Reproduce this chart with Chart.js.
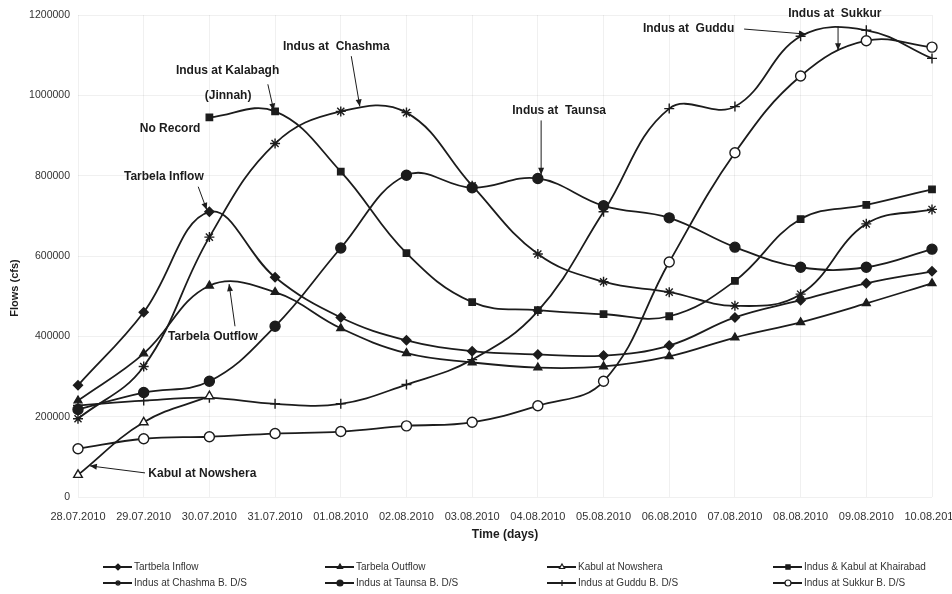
<!DOCTYPE html>
<html>
<head>
<meta charset="utf-8">
<title>Flood flows, Indus river system, July-August 2010</title>
<script src="https://cdn.jsdelivr.net/npm/chart.js@4/dist/chart.umd.min.js"></script>
<style>
  html, body { margin: 0; padding: 0; background: #ffffff; }
  #wrap { width: 952px; height: 594px; }
</style>
</head>
<body>
<div id="wrap"><canvas id="flowChart" width="952" height="594"></canvas></div>
<script>
// Days on the x axis
const days = ["28.07.2010", "29.07.2010", "30.07.2010", "31.07.2010", "01.08.2010", "02.08.2010", "03.08.2010",
    "04.08.2010", "05.08.2010", "06.08.2010", "07.08.2010", "08.08.2010", "09.08.2010", "10.08.2010"];

// Flows (cfs)
const tarbelaInflow = [278000, 460000, 710000, 547000, 447000, 390000, 363000, 355000, 352000, 377000, 447000, 490000, 532000, 562000];
const tarbelaOutflow = [240000, 357000, 526000, 510000, 420000, 358000, 335000, 322000, 325000, 350000, 397000, 435000, 482000, 532000];
const kabulNowshera = [55000, 186000, 251000, null, null, null, null, null, null, null, null, null, null, null];
const khairabad = [null, null, 945000, 960000, 810000, 607000, 485000, 465000, 455000, 450000, 538000, 692000, 727000, 766000];
const chashma = [195000, 325000, 647000, 880000, 960000, 957000, 775000, 605000, 536000, 510000, 476000, 505000, 680000, 716000];
const taunsa = [218000, 260000, 288000, 425000, 620000, 801000, 770000, 793000, 725000, 695000, 622000, 572000, 572000, 617000];
const guddu = [228000, 240000, 247000, 232000, 232000, 280000, 342000, 463000, 710000, 967000, 972000, 1147000, 1162000, 1092000];
const sukkur = [120000, 145000, 150000, 158000, 163000, 177000, 186000, 227000, 288000, 585000, 857000, 1048000, 1136000, 1120000];

// Y axis ticks
const flowTicks = [0, 200000, 400000, 600000, 800000, 1000000, 1200000];

// Callouts: text in data units (day index, flow), arrow from -> to
const callouts = [
    { lines: ["Indus at  Sukkur"], at: [10.81, 1202500], arrow: [[11.57, 1172500], [11.57, 1112500]] },
    { lines: ["Indus at  Guddu"], at: [8.60, 1165000], arrow: [[10.14, 1165000], [11.08, 1152500]] },
    { lines: ["Indus at  Taunsa"], at: [6.61, 962500], arrow: [[7.05, 937500], [7.05, 802500]] },
    { lines: ["Indus at  Chashma"], at: [3.12, 1120000], arrow: [[4.16, 1097500], [4.29, 972500]] },
    { lines: ["Indus at Kalabagh"], at: [1.49, 1062500], arrow: [[2.89, 1027500], [2.98, 962500]] },
    { lines: ["(Jinnah)"], at: [1.93, 1000000] },
    { lines: ["No Record"], at: [0.94, 917500] },
    { lines: ["Tarbela Inflow"], at: [0.70, 797500], arrow: [[1.83, 772500], [1.96, 715000]] },
    { lines: ["Tarbela Outflow"], at: [1.37, 400000], arrow: [[2.39, 425000], [2.30, 530000]] },
    { lines: ["Kabul at Nowshera"], at: [1.07, 57500], arrow: [[1.02, 60000], [0.18, 77500]] }
];

const FONT = "'Liberation Sans', Arial, sans-serif";
const INK = "#1c1c1c";

const makeSeries = (label, data, pointStyle, hollow, radius) => ({
    label: label,
    data: data,
    borderColor: INK,
    borderWidth: 1.8,
    tension: 0.4,
    spanGaps: false,
    pointStyle: pointStyle,
    pointRadius: radius || 4,
    pointBorderWidth: 1.4,
    pointBorderColor: INK,
    pointBackgroundColor: hollow ? "#ffffff" : INK
});

const datasets = [
    makeSeries("Tartbela Inflow", tarbelaInflow, "rectRot", false, 4.5),
    makeSeries("Tarbela Outflow", tarbelaOutflow, "triangle", false, 4.5),
    makeSeries("Kabul at Nowshera", kabulNowshera, "triangle", true, 5),
    makeSeries("Indus & Kabul at Khairabad", khairabad, "rect", false, 4.5),
    makeSeries("Indus at Chashma B. D/S", chashma, "star", false, 5),
    makeSeries("Indus at Taunsa B. D/S", taunsa, "circle", false, 5),
    makeSeries("Indus at Guddu B. D/S", guddu, "cross", false, 5),
    makeSeries("Indus at Sukkur B. D/S", sukkur, "circle", true, 5)
];

// Legend: 4 columns x 2 rows under the chart
const legendCols = [103, 325, 547, 773];
const legendRows = [567, 583];
const legendOrder = [0, 1, 2, 3, 4, 5, 6, 7];

const drawArrow = (ctx, x1, y1, x2, y2) => {
    ctx.beginPath();
    ctx.moveTo(x1, y1);
    ctx.lineTo(x2, y2);
    ctx.stroke();
    const ang = Math.atan2(y2 - y1, x2 - x1);
    const len = 7, w = 3;
    ctx.beginPath();
    ctx.moveTo(x2, y2);
    ctx.lineTo(x2 - len * Math.cos(ang) + w * Math.sin(ang), y2 - len * Math.sin(ang) - w * Math.cos(ang));
    ctx.lineTo(x2 - len * Math.cos(ang) - w * Math.sin(ang), y2 - len * Math.sin(ang) + w * Math.cos(ang));
    ctx.closePath();
    ctx.fill();
};

const extrasPlugin = {
    id: "extras",
    afterDraw(chart) {
        const { ctx, scales: { x, y } } = chart;
        ctx.save();

        // callouts
        ctx.fillStyle = INK;
        ctx.strokeStyle = INK;
        ctx.lineWidth = 1;
        ctx.font = "bold 12px " + FONT;
        ctx.textBaseline = "middle";
        ctx.textAlign = "left";
        callouts.forEach(c => {
            const px = x.getPixelForValue(c.at[0]);
            const py = y.getPixelForValue(c.at[1]);
            c.lines.forEach((t, i) => ctx.fillText(t, px, py + i * 14));
            if (c.arrow) {
                const [a, b] = c.arrow;
                drawArrow(ctx, x.getPixelForValue(a[0]), y.getPixelForValue(a[1]),
                    x.getPixelForValue(b[0]), y.getPixelForValue(b[1]));
            }
        });

        // y axis title
        ctx.save();
        ctx.translate(15, 288);
        ctx.rotate(-Math.PI / 2);
        ctx.textAlign = "center";
        ctx.font = "bold 11px " + FONT;
        ctx.fillText("Flows (cfs)", 0, 0);
        ctx.restore();

        // legend
        ctx.font = "10px " + FONT;
        ctx.textAlign = "left";
        legendOrder.forEach((di, k) => {
            const ds = chart.data.datasets[di];
            const lx = legendCols[k % 4];
            const ly = legendRows[Math.floor(k / 4)];
            ctx.strokeStyle = INK;
            ctx.lineWidth = 2;
            ctx.beginPath();
            ctx.moveTo(lx, ly);
            ctx.lineTo(lx + 29, ly);
            ctx.stroke();
            ctx.fillStyle = ds.pointBackgroundColor;
            ctx.lineWidth = 1.2;
            Chart.helpers.drawPoint(ctx, { pointStyle: ds.pointStyle, radius: 3, rotation: 0, borderWidth: 1.2 }, lx + 15, ly);
            ctx.fillStyle = "#333333";
            ctx.fillText(ds.label, lx + 31, ly);
        });

        ctx.restore();
    }
};

const gridStyle = {
    color: "rgba(0,0,0,0.06)",
    lineWidth: 1,
    drawTicks: false
};

new Chart(document.getElementById("flowChart").getContext("2d"), {
    type: "line",
    data: { labels: days, datasets: datasets },
    options: {
        responsive: false,
        animation: false,
        devicePixelRatio: 1,
        layout: { padding: { left: 0, right: 20, top: 15, bottom: 47 } },
        plugins: { legend: { display: false }, tooltip: { enabled: false } },
        scales: {
            x: {
                offset: false,
                grid: gridStyle,
                border: { display: false },
                ticks: { color: "#333333", font: { family: FONT, size: 11 }, padding: 13, maxRotation: 0, autoSkip: false },
                title: { display: true, text: "Time (days)", color: INK, font: { family: FONT, size: 12, weight: "bold" }, padding: { top: 0, bottom: 5 } },
                afterFit: (scale) => {
                    scale.height = 50;
                    scale.paddingLeft = 0;
                    scale.paddingRight = 0;
                }
            },
            y: {
                min: 0,
                max: 1200000,
                grid: gridStyle,
                border: { display: false },
                afterBuildTicks: (scale) => { scale.ticks = flowTicks.map(v => ({ value: v })); },
                ticks: { color: "#333333", font: { family: FONT, size: 10.5 }, padding: 8, callback: (v) => String(v) },
                afterFit: (scale) => { scale.width = 78; }
            }
        }
    },
    plugins: [extrasPlugin]
});
</script>
</body>
</html>
